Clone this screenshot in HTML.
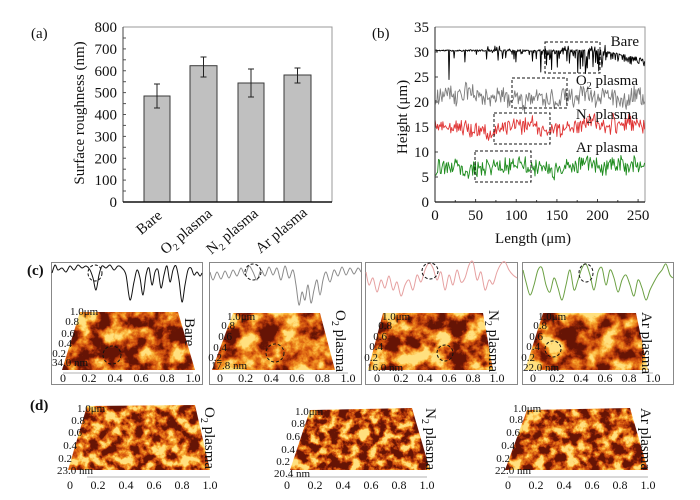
<!DOCTYPE html>
<html><head><meta charset="utf-8">
<style>
html,body{margin:0;padding:0;background:#fff;}
svg{display:block;}
text{font-family:"Liberation Serif","DejaVu Serif",serif;fill:#111;}
</style></head>
<body>
<svg width="700" height="500" viewBox="0 0 700 500" xmlns="http://www.w3.org/2000/svg">
<defs>
<filter id="f1" x="0" y="0" width="100%" height="100%" color-interpolation-filters="sRGB">
 <feTurbulence type="fractalNoise" baseFrequency="0.055" numOctaves="5" seed="2"/>
 <feColorMatrix type="matrix" values="3.2 0 0 0 -1.3  3.2 0 0 0 -1.3  3.2 0 0 0 -1.3  0 0 0 0 1"/>
 <feComponentTransfer><feFuncR type="table" tableValues="0.4 0.6 0.78 0.88 0.95 0.99 1"/><feFuncG type="table" tableValues="0.08 0.16 0.28 0.42 0.58 0.75 0.88"/><feFuncB type="table" tableValues="0.02 0.03 0.05 0.08 0.14 0.28 0.5"/></feComponentTransfer>
</filter>
<filter id="f2" x="0" y="0" width="100%" height="100%" color-interpolation-filters="sRGB">
 <feTurbulence type="fractalNoise" baseFrequency="0.05" numOctaves="5" seed="5"/>
 <feColorMatrix type="matrix" values="3.2 0 0 0 -1.05  3.2 0 0 0 -1.05  3.2 0 0 0 -1.05  0 0 0 0 1"/>
 <feComponentTransfer><feFuncR type="table" tableValues="0.4 0.6 0.78 0.88 0.95 0.99 1"/><feFuncG type="table" tableValues="0.08 0.16 0.28 0.42 0.58 0.75 0.88"/><feFuncB type="table" tableValues="0.02 0.03 0.05 0.08 0.14 0.28 0.5"/></feComponentTransfer>
</filter>
<filter id="f3" x="0" y="0" width="100%" height="100%" color-interpolation-filters="sRGB">
 <feTurbulence type="fractalNoise" baseFrequency="0.06" numOctaves="5" seed="8"/>
 <feColorMatrix type="matrix" values="3.2 0 0 0 -1.15  3.2 0 0 0 -1.15  3.2 0 0 0 -1.15  0 0 0 0 1"/>
 <feComponentTransfer><feFuncR type="table" tableValues="0.4 0.6 0.78 0.88 0.95 0.99 1"/><feFuncG type="table" tableValues="0.08 0.16 0.28 0.42 0.58 0.75 0.88"/><feFuncB type="table" tableValues="0.02 0.03 0.05 0.08 0.14 0.28 0.5"/></feComponentTransfer>
</filter>
<filter id="f4" x="0" y="0" width="100%" height="100%" color-interpolation-filters="sRGB">
 <feTurbulence type="fractalNoise" baseFrequency="0.05" numOctaves="5" seed="13"/>
 <feColorMatrix type="matrix" values="3.2 0 0 0 -1.2  3.2 0 0 0 -1.2  3.2 0 0 0 -1.2  0 0 0 0 1"/>
 <feComponentTransfer><feFuncR type="table" tableValues="0.4 0.6 0.78 0.88 0.95 0.99 1"/><feFuncG type="table" tableValues="0.08 0.16 0.28 0.42 0.58 0.75 0.88"/><feFuncB type="table" tableValues="0.02 0.03 0.05 0.08 0.14 0.28 0.5"/></feComponentTransfer>
</filter>
<filter id="f5" x="0" y="0" width="100%" height="100%" color-interpolation-filters="sRGB">
 <feTurbulence type="fractalNoise" baseFrequency="0.09" numOctaves="4" seed="21"/>
 <feColorMatrix type="matrix" values="3.2 0 0 0 -1.15  3.2 0 0 0 -1.15  3.2 0 0 0 -1.15  0 0 0 0 1"/>
 <feComponentTransfer><feFuncR type="table" tableValues="0.4 0.6 0.78 0.88 0.95 0.99 1"/><feFuncG type="table" tableValues="0.08 0.16 0.28 0.42 0.58 0.75 0.88"/><feFuncB type="table" tableValues="0.02 0.03 0.05 0.08 0.14 0.28 0.5"/></feComponentTransfer>
</filter>
<filter id="f6" x="0" y="0" width="100%" height="100%" color-interpolation-filters="sRGB">
 <feTurbulence type="fractalNoise" baseFrequency="0.1" numOctaves="4" seed="34"/>
 <feColorMatrix type="matrix" values="3.2 0 0 0 -1.2  3.2 0 0 0 -1.2  3.2 0 0 0 -1.2  0 0 0 0 1"/>
 <feComponentTransfer><feFuncR type="table" tableValues="0.4 0.6 0.78 0.88 0.95 0.99 1"/><feFuncG type="table" tableValues="0.08 0.16 0.28 0.42 0.58 0.75 0.88"/><feFuncB type="table" tableValues="0.02 0.03 0.05 0.08 0.14 0.28 0.5"/></feComponentTransfer>
</filter>
<filter id="f7" x="0" y="0" width="100%" height="100%" color-interpolation-filters="sRGB">
 <feTurbulence type="fractalNoise" baseFrequency="0.09" numOctaves="4" seed="55"/>
 <feColorMatrix type="matrix" values="3.2 0 0 0 -1.2  3.2 0 0 0 -1.2  3.2 0 0 0 -1.2  0 0 0 0 1"/>
 <feComponentTransfer><feFuncR type="table" tableValues="0.4 0.6 0.78 0.88 0.95 0.99 1"/><feFuncG type="table" tableValues="0.08 0.16 0.28 0.42 0.58 0.75 0.88"/><feFuncB type="table" tableValues="0.02 0.03 0.05 0.08 0.14 0.28 0.5"/></feComponentTransfer>
</filter>
<clipPath id="cp1"><polygon points="80,312 178,312 195,370 62,370"/></clipPath>
<clipPath id="cp2"><polygon points="233,313 320,313 335,370 212,370"/></clipPath>
<clipPath id="cp3"><polygon points="383,313 483,313 493,370 368,370"/></clipPath>
<clipPath id="cp4"><polygon points="543,313 636,313 648,370 525,370"/></clipPath>
<clipPath id="cp5"><polygon points="87,406 195,405 210,470 68,470"/></clipPath>
<clipPath id="cp6"><polygon points="310,410 412,408 430,470 290,470"/></clipPath>
<clipPath id="cp7"><polygon points="527,410 630,408 648,470 505,470"/></clipPath>
<clipPath id="cpb"><rect x="435" y="27" width="210" height="175"/></clipPath>
</defs>

<!-- ================= (a) ================= -->
<text x="31" y="38" font-size="15">(a)</text>
<g font-size="15" text-anchor="end">
<text x="117" y="32">800</text><text x="117" y="54">700</text><text x="117" y="76">600</text>
<text x="117" y="97.6">500</text><text x="117" y="119.5">400</text><text x="117" y="141.4">300</text>
<text x="117" y="163.3">200</text><text x="117" y="185.1">100</text><text x="117" y="207">0</text>
</g>
<g stroke="#555" stroke-width="1">
<line x1="123" y1="38" x2="126" y2="38"/><line x1="123" y1="48.9" x2="126" y2="48.9"/><line x1="123" y1="59.8" x2="126" y2="59.8"/>
<line x1="123" y1="70.75" x2="126" y2="70.75"/><line x1="123" y1="81.7" x2="126" y2="81.7"/><line x1="123" y1="92.6" x2="126" y2="92.6"/>
<line x1="123" y1="103.6" x2="126" y2="103.6"/><line x1="123" y1="114.5" x2="126" y2="114.5"/><line x1="123" y1="125.4" x2="126" y2="125.4"/>
<line x1="123" y1="136.4" x2="126" y2="136.4"/><line x1="123" y1="147.3" x2="126" y2="147.3"/><line x1="123" y1="158.25" x2="126" y2="158.25"/>
<line x1="123" y1="169.2" x2="126" y2="169.2"/><line x1="123" y1="180.1" x2="126" y2="180.1"/><line x1="123" y1="191" x2="126" y2="191"/>
</g>
<polyline points="123,27 332,27 332,202" fill="none" stroke="#999" stroke-width="1"/>
<line x1="123" y1="27" x2="123" y2="202" stroke="#444" stroke-width="1"/>
<g fill="#c0c0c0" stroke="#3a3a3a" stroke-width="1">
<rect x="144" y="96" width="26" height="106"/>
<rect x="190" y="65.7" width="27" height="136.3"/>
<rect x="238" y="83" width="26" height="119"/>
<rect x="284" y="75" width="27" height="127"/>
</g>
<g stroke="#222" stroke-width="1">
<line x1="157" y1="84" x2="157" y2="108"/><line x1="154" y1="84" x2="160" y2="84"/><line x1="154" y1="108" x2="160" y2="108"/>
<line x1="203.5" y1="57" x2="203.5" y2="77"/><line x1="200.5" y1="57" x2="206.5" y2="57"/><line x1="200.5" y1="77" x2="206.5" y2="77"/>
<line x1="251" y1="69" x2="251" y2="97"/><line x1="248" y1="69" x2="254" y2="69"/><line x1="248" y1="97" x2="254" y2="97"/>
<line x1="297.5" y1="68" x2="297.5" y2="83"/><line x1="294.5" y1="68" x2="300.5" y2="68"/><line x1="294.5" y1="83" x2="300.5" y2="83"/>
</g>
<line x1="123" y1="202" x2="332" y2="202" stroke="#111" stroke-width="1.5"/>
<g font-size="15" text-anchor="end">
<text transform="translate(163,217) rotate(-40)">Bare</text>
<text transform="translate(213,215) rotate(-40)">O<tspan font-size="10" dy="4">2</tspan><tspan dy="-4"> plasma</tspan></text>
<text transform="translate(259,215) rotate(-40)">N<tspan font-size="10" dy="4">2</tspan><tspan dy="-4"> plasma</tspan></text>
<text transform="translate(308,214) rotate(-40)">Ar plasma</text>
</g>
<text transform="translate(84,113) rotate(-90)" font-size="15" text-anchor="middle">Surface roughness (nm)</text>

<!-- ================= (b) ================= -->
<text x="372" y="38" font-size="15">(b)</text>
<g font-size="15" text-anchor="end">
<text x="429" y="32">35</text><text x="429" y="57">30</text><text x="429" y="82">25</text><text x="429" y="107">20</text>
<text x="429" y="132">15</text><text x="429" y="157">10</text><text x="429" y="182">5</text><text x="429" y="207">0</text>
</g>
<g font-size="15" text-anchor="middle">
<text x="435" y="220">0</text><text x="475.6" y="220">50</text><text x="516.25" y="220">100</text>
<text x="556.9" y="220">150</text><text x="597.5" y="220">200</text><text x="638.1" y="220">250</text>
</g>
<text x="533" y="243" font-size="15" text-anchor="middle">Length (μm)</text>
<text transform="translate(407,117) rotate(-90)" font-size="15" text-anchor="middle">Height (μm)</text>
<polyline points="435,27 645,27 645,202" fill="none" stroke="#999" stroke-width="1"/>
<g stroke="#444" stroke-width="1">
<line x1="435" y1="52" x2="438" y2="52"/><line x1="435" y1="77" x2="438" y2="77"/><line x1="435" y1="102" x2="438" y2="102"/>
<line x1="435" y1="127" x2="438" y2="127"/><line x1="435" y1="152" x2="438" y2="152"/><line x1="435" y1="177" x2="438" y2="177"/>
<line x1="475.6" y1="202" x2="475.6" y2="199"/><line x1="516.25" y1="202" x2="516.25" y2="199"/><line x1="556.9" y1="202" x2="556.9" y2="199"/>
<line x1="597.5" y1="202" x2="597.5" y2="199"/><line x1="638.1" y1="202" x2="638.1" y2="199"/>
<line x1="455.3" y1="202" x2="455.3" y2="200"/><line x1="495.9" y1="202" x2="495.9" y2="200"/><line x1="536.6" y1="202" x2="536.6" y2="200"/>
<line x1="577.2" y1="202" x2="577.2" y2="200"/><line x1="617.8" y1="202" x2="617.8" y2="200"/>
</g>
<g clip-path="url(#cpb)" fill="none" stroke-width="0.9" stroke-linejoin="round">
<path id="sBare" stroke="#000" d=""/>
<path id="sO2" stroke="#7d7d7d" d=""/>
<path id="sN2" stroke="#e03535" d=""/>
<path id="sAr" stroke="#1e8c1e" d=""/>
</g>
<line x1="435" y1="27" x2="435" y2="202" stroke="#222" stroke-width="1"/>
<line x1="435" y1="202" x2="645" y2="202" stroke="#111" stroke-width="1.3"/>
<g fill="none" stroke="#111" stroke-width="1" stroke-dasharray="3,2">
<rect x="545" y="42" width="55" height="31"/>
<rect x="512" y="78" width="55" height="30"/>
<rect x="494" y="113" width="56" height="31"/>
<rect x="475" y="151" width="56" height="31"/>
</g>
<g font-size="15" text-anchor="end">
<text x="639" y="46">Bare</text>
<text x="638" y="85">O<tspan font-size="10" dy="4">2</tspan><tspan dy="-4"> plasma</tspan></text>
<text x="638" y="119">N<tspan font-size="10" dy="4">2</tspan><tspan dy="-4"> plasma</tspan></text>
<text x="638" y="152">Ar plasma</text>
</g>

<!-- ================= (c) ================= -->
<text x="27" y="275" font-size="15" font-weight="bold">(c)</text>
<g fill="none" stroke="#888" stroke-width="1">
<rect x="51.5" y="262.5" width="151" height="122"/>
<rect x="209.5" y="262.5" width="152" height="122"/>
<rect x="365.5" y="262.5" width="152" height="122"/>
<rect x="522.5" y="262.5" width="151" height="122"/>
</g>
<g fill="none" stroke-width="1" stroke-linejoin="round">
<polyline class="sm" stroke="#111" points="52,273 55,265 58,270 62,268 66,272 70,266 74,270 78,265 82,268 86,266 90,270 93,278 96,290 99,275 102,266 106,268 110,265 114,270 118,266 122,268 126,275 130,300 134,282 137,270 140,278 143,295 146,275 149,268 152,285 155,272 158,270 161,288 164,275 167,266 170,282 173,270 176,266 179,280 182,302 185,285 188,270 191,268 194,275 197,272 200,276 202,273"/>
<polyline class="sm" stroke="#8a8a8a" points="210,272 213,280 217,272 221,279 225,271 229,278 233,270 237,276 241,268 245,275 249,266 253,272 257,280 261,270 265,276 269,267 273,275 277,268 281,280 285,266 289,278 293,270 296,285 299,305 302,292 305,300 308,285 311,303 314,290 317,280 320,295 323,280 326,272 330,282 334,270 338,276 342,267 346,275 350,268 354,274 358,268 361,272"/>
<polyline class="sm" stroke="#e6a0a0" points="366,272 369,285 373,278 377,292 381,280 385,288 389,276 393,290 397,282 401,296 405,285 409,280 413,290 417,275 421,282 425,270 429,263 433,268 437,280 441,272 445,290 449,275 453,285 457,270 461,282 465,278 469,265 473,262 477,280 481,272 485,290 489,280 493,284 497,272 501,264 505,262 509,270 513,275 517,278"/>
<polyline class="sm" stroke="#6ba043" points="523,270 526,282 530,295 534,285 538,270 542,268 546,285 550,292 554,278 558,288 562,300 566,285 570,270 574,290 578,280 582,268 586,264 590,275 594,290 598,272 602,268 606,285 610,270 614,278 618,292 622,280 626,275 630,285 634,296 638,280 642,288 646,300 650,290 654,282 658,275 662,270 666,264 670,275 673,278"/>
</g>
<g fill="none" stroke="#111" stroke-width="1" stroke-dasharray="3,2">
<ellipse cx="95" cy="273" rx="7" ry="8"/>
<ellipse cx="253" cy="272" rx="8" ry="8"/>
<ellipse cx="430" cy="271" rx="8" ry="8"/>
<ellipse cx="586" cy="273" rx="7" ry="9"/>
</g>
<g clip-path="url(#cp1)"><rect x="60" y="310" width="140" height="64" filter="url(#f1)"/></g>
<g clip-path="url(#cp2)"><rect x="210" y="310" width="130" height="64" filter="url(#f2)"/></g>
<g clip-path="url(#cp3)"><rect x="366" y="310" width="130" height="64" filter="url(#f3)"/></g>
<g clip-path="url(#cp4)"><rect x="523" y="310" width="130" height="64" filter="url(#f4)"/></g>
<text x="30" y="410" font-size="15" font-weight="bold">(d)</text>
<g clip-path="url(#cp5)"><rect x="66" y="403" width="150" height="70" filter="url(#f5)"/></g>
<g clip-path="url(#cp6)"><rect x="288" y="406" width="148" height="66" filter="url(#f6)"/></g>
<g clip-path="url(#cp7)"><rect x="503" y="406" width="152" height="66" filter="url(#f7)"/></g>

<g fill="none" stroke="#111" stroke-width="1" stroke-dasharray="3,2">
<circle cx="112" cy="355" r="9"/><circle cx="275" cy="353" r="9"/><circle cx="445" cy="353" r="8"/><circle cx="553" cy="349" r="8"/>
</g>
<g stroke="#999" stroke-width="0.8">
<line x1="63" y1="373" x2="193" y2="373"/><line x1="220" y1="373" x2="348" y2="373"/>
<line x1="377" y1="373" x2="497" y2="373"/><line x1="533" y1="373" x2="653" y2="373"/>
<line x1="87" y1="477" x2="210" y2="477"/><line x1="287" y1="477" x2="427" y2="477"/><line x1="508" y1="477" x2="648" y2="477"/>
</g>
<g font-size="12" text-anchor="middle" fill="#222">
<text x="63" y="382">0</text><text x="89" y="382">0.2</text><text x="115" y="382">0.4</text><text x="141" y="382">0.6</text><text x="167" y="382">0.8</text><text x="193" y="382">1.0</text>
<text x="220" y="382">0</text><text x="245.6" y="382">0.2</text><text x="271.2" y="382">0.4</text><text x="296.8" y="382">0.6</text><text x="322.4" y="382">0.8</text><text x="348" y="382">1.0</text>
<text x="377" y="382">0</text><text x="401" y="382">0.2</text><text x="425" y="382">0.4</text><text x="449" y="382">0.6</text><text x="473" y="382">0.8</text><text x="497" y="382">1.0</text>
<text x="533" y="382">0</text><text x="557" y="382">0.2</text><text x="581" y="382">0.4</text><text x="605" y="382">0.6</text><text x="629" y="382">0.8</text><text x="653" y="382">1.0</text>
<text x="70" y="489">0</text><text x="98" y="489">0.2</text><text x="126" y="489">0.4</text><text x="154" y="489">0.6</text><text x="182" y="489">0.8</text><text x="210" y="489">1.0</text>
<text x="287" y="489">0</text><text x="315" y="489">0.2</text><text x="343" y="489">0.4</text><text x="371" y="489">0.6</text><text x="399" y="489">0.8</text><text x="427" y="489">1.0</text>
<text x="508" y="489">0</text><text x="536" y="489">0.2</text><text x="564" y="489">0.4</text><text x="592" y="489">0.6</text><text x="620" y="489">0.8</text><text x="648" y="489">1.0</text>
</g>
<g font-size="11" fill="#222">
<text x="70" y="315">1.0μm</text>
<text x="79" y="325" text-anchor="end">0.8</text><text x="75" y="337" text-anchor="end">0.6</text><text x="72" y="347" text-anchor="end">0.4</text><text x="66" y="357" text-anchor="end">0.2</text>
<text x="52" y="366">34.0 nm</text>
<text x="227" y="320">1.0μm</text>
<text x="235" y="329" text-anchor="end">0.8</text><text x="232" y="340" text-anchor="end">0.6</text><text x="227" y="351" text-anchor="end">0.4</text><text x="222" y="361" text-anchor="end">0.2</text>
<text x="211" y="369">17.8 nm</text>
<text x="382" y="320">1.0μm</text>
<text x="392" y="329" text-anchor="end">0.8</text><text x="387" y="340" text-anchor="end">0.6</text><text x="383" y="350" text-anchor="end">0.4</text><text x="378" y="361" text-anchor="end">0.2</text>
<text x="367" y="371">16.0 nm</text>
<text x="538" y="320">1.0μm</text>
<text x="547" y="329" text-anchor="end">0.8</text><text x="543" y="340" text-anchor="end">0.6</text><text x="540" y="350" text-anchor="end">0.4</text><text x="535" y="361" text-anchor="end">0.2</text>
<text x="523" y="371">22.0 nm</text>
<text x="77" y="412">1.0μm</text>
<text x="85" y="424" text-anchor="end">0.8</text><text x="82" y="436" text-anchor="end">0.6</text><text x="77" y="449" text-anchor="end">0.4</text><text x="72" y="462" text-anchor="end">0.2</text>
<text x="57" y="474">23.0 nm</text>
<text x="295" y="415">1.0μm</text>
<text x="305" y="427" text-anchor="end">0.8</text><text x="300" y="440" text-anchor="end">0.6</text><text x="295" y="453" text-anchor="end">0.4</text><text x="290" y="465" text-anchor="end">0.2</text>
<text x="274" y="477">20.4 nm</text>
<text x="513" y="412">1.0μm</text>
<text x="523" y="423" text-anchor="end">0.8</text><text x="520" y="436" text-anchor="end">0.6</text><text x="515" y="449" text-anchor="end">0.4</text><text x="510" y="462" text-anchor="end">0.2</text>
<text x="495" y="474">22.0 nm</text>
</g>
<g font-size="15">
<text transform="translate(185,318) rotate(90)">Bare</text>
<text transform="translate(336,310) rotate(90)">O<tspan font-size="10" dy="4">2</tspan><tspan dy="-4"> plasma</tspan></text>
<text transform="translate(489,310) rotate(90)">N<tspan font-size="10" dy="4">2</tspan><tspan dy="-4"> plasma</tspan></text>
<text transform="translate(642,312) rotate(90)">Ar plasma</text>
<text transform="translate(205,407) rotate(90)">O<tspan font-size="10" dy="4">2</tspan><tspan dy="-4"> plasma</tspan></text>
<text transform="translate(426,408) rotate(90)">N<tspan font-size="10" dy="4">2</tspan><tspan dy="-4"> plasma</tspan></text>
<text transform="translate(641,408) rotate(90)">Ar plasma</text>
</g>
</svg>
<script>
(function(){
function mk(seed){var s=seed;return function(){s|=0;s=s+0x6D2B79F5|0;var t=Math.imul(s^s>>>15,1|s);t=t+Math.imul(t^t>>>7,61|t)^t;return((t^t>>>14)>>>0)/4294967296;};}
function X(v){return 435+v*0.8125;} function Y(v){return 202-v*5;}
function path(vals,xmax){var d='';for(var i=0;i<vals.length;i++){var x=X(i*xmax/(vals.length-1));d+=(i?'L':'M')+x.toFixed(1)+' '+Y(vals[i]).toFixed(2);}return d;}
var r=mk(11),v=[],N=330,i,x,p,a,val;
for(i=0;i<N;i++){x=i*258/(N-1);var base=30.3-(x>205?(x-205)*0.034:0);val=base+(r()-0.5)*0.35;
 if(x<60){p=0.05;a=2;}else if(x<130){p=0.3;a=2.5;}else if(x<210){p=0.5;a=4.5;}else{p=0.6;a=1.6;}
 if(r()<p)val-=r()*a; if(x>60&&x<215&&r()<0.15)val+=r()*1.1;
 if(Math.abs(x-17)<0.45)val=24.5; if(Math.abs(x-37)<0.45)val=28; v.push(val);}
document.getElementById('sBare').setAttribute('d',path(v,258));
function series(seed,base,amp,walk,n,extra){var r=mk(seed),out=[],s=0;for(var i=0;i<n;i++){var x=i*258/(n-1);s+=(r()-0.5)*walk;s*=0.88;var val=base+s+(r()-0.5)*amp+(extra?extra(x,r):0);out.push(val);}return out;}
document.getElementById('sO2').setAttribute('d',path(series(23,21.2,3.4,1.2,240,function(x,r){return ((x>140&&x<185)||(x>15&&x<35))&&r()<0.3?-r()*2:0;}),258));
document.getElementById('sN2').setAttribute('d',path(series(37,15,3.0,1.0,240,function(x,r){return (x>210&&x<230&&r()<0.3)?-r()*2:0;}),258));
document.getElementById('sAr').setAttribute('d',path(series(51,7.1,3.2,1.2,240,function(x,r){return (x>100&&x<200)?0.5:0;}),258));
var pls=document.querySelectorAll('polyline.sm');
for(var k=0;k<pls.length;k++){var pl=pls[k];var pts=pl.getAttribute('points').trim().split(/\s+/).map(function(s){var q=s.split(',');return [+q[0],+q[1]];});
 var d='M'+pts[0][0]+' '+pts[0][1];
 for(var j=0;j<pts.length-1;j++){var p0=pts[j-1]||pts[j],p1=pts[j],p2=pts[j+1],p3=pts[j+2]||p2;
  var c1x=p1[0]+(p2[0]-p0[0])/6,c1y=p1[1]+(p2[1]-p0[1])/6,c2x=p2[0]-(p3[0]-p1[0])/6,c2y=p2[1]-(p3[1]-p1[1])/6;
  d+='C'+c1x.toFixed(1)+' '+c1y.toFixed(1)+' '+c2x.toFixed(1)+' '+c2y.toFixed(1)+' '+p2[0]+' '+p2[1];}
 var np=document.createElementNS('http://www.w3.org/2000/svg','path');np.setAttribute('d',d);np.setAttribute('stroke',pl.getAttribute('stroke'));np.setAttribute('fill','none');np.setAttribute('stroke-width','1');
 pl.parentNode.replaceChild(np,pl);}
})();
</script>
</body></html>
